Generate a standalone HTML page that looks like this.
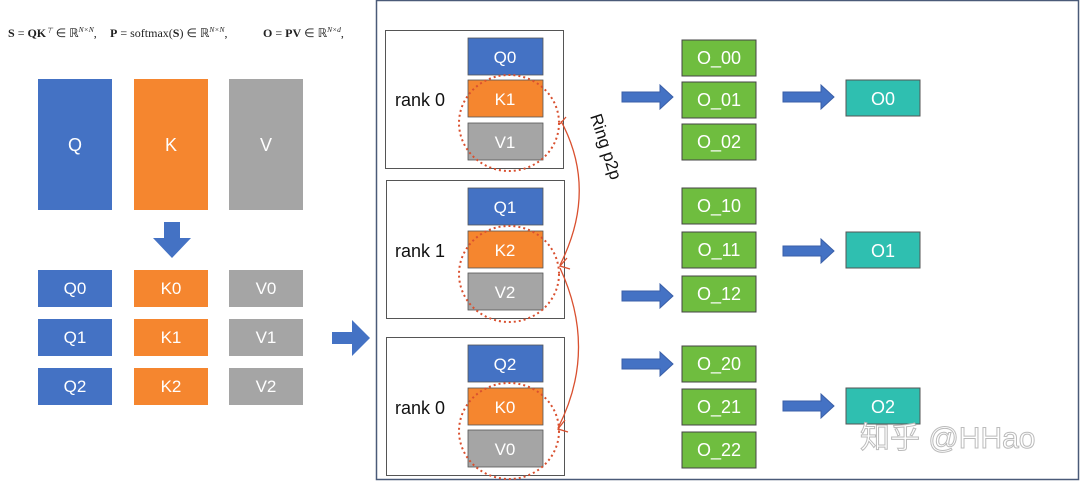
<!DOCTYPE html>
<html><head><meta charset="utf-8"><style>
body{margin:0;background:#fff}
svg{display:block}
text{font-family:"Liberation Sans",sans-serif}
.f{font-family:"Liberation Serif",serif;font-size:12px}
.s{font-size:7.5px;font-style:italic}
</style></head><body>
<svg width="1080" height="482" viewBox="0 0 1080 482" xmlns="http://www.w3.org/2000/svg">
<defs>
<g id="ar"><path d="M0,-5 L38,-5 L38,-12 L51,0 L38,12 L38,5 L0,5 Z" fill="#4472c4" stroke="#3a5fa8" stroke-width="1"/></g>
</defs>
<text x="8" y="37" class="f" fill="#222"><tspan font-weight="bold">S</tspan> = <tspan font-weight="bold">QK</tspan><tspan class="s" dy="-4">⊤</tspan><tspan dy="4"> ∈ ℝ</tspan><tspan class="s" dy="-5">N×N</tspan><tspan dy="5">,</tspan></text>
<text x="110" y="37" class="f" fill="#222"><tspan font-weight="bold">P</tspan> = softmax(<tspan font-weight="bold">S</tspan>) ∈ ℝ<tspan class="s" dy="-5">N×N</tspan><tspan dy="5">,</tspan></text>
<text x="263" y="37" class="f" fill="#222"><tspan font-weight="bold">O</tspan> = <tspan font-weight="bold">PV</tspan> ∈ ℝ<tspan class="s" dy="-5">N×d</tspan><tspan dy="5">,</tspan></text>

<g font-size="18" fill="#fff" text-anchor="middle">
<rect x="38" y="79" width="74" height="131" fill="#4472c4"/><text x="75" y="151">Q</text>
<rect x="134" y="79" width="74" height="131" fill="#f5862f"/><text x="171" y="151">K</text>
<rect x="229" y="79" width="74" height="131" fill="#a5a5a5"/><text x="266" y="151">V</text>
</g>
<path d="M164,222 L180,222 L180,238 L191,238 L172,258 L153,238 L164,238 Z" fill="#4472c4"/>
<g font-size="17" fill="#fff" text-anchor="middle">
<rect x="38" y="270" width="74" height="37" fill="#4472c4"/><text x="75" y="294">Q0</text>
<rect x="38" y="319" width="74" height="37" fill="#4472c4"/><text x="75" y="343">Q1</text>
<rect x="38" y="368" width="74" height="37" fill="#4472c4"/><text x="75" y="392">Q2</text>
<rect x="134" y="270" width="74" height="37" fill="#f5862f"/><text x="171" y="294">K0</text>
<rect x="134" y="319" width="74" height="37" fill="#f5862f"/><text x="171" y="343">K1</text>
<rect x="134" y="368" width="74" height="37" fill="#f5862f"/><text x="171" y="392">K2</text>
<rect x="229" y="270" width="74" height="37" fill="#a5a5a5"/><text x="266" y="294">V0</text>
<rect x="229" y="319" width="74" height="37" fill="#a5a5a5"/><text x="266" y="343">V1</text>
<rect x="229" y="368" width="74" height="37" fill="#a5a5a5"/><text x="266" y="392">V2</text>
</g>
<path d="M332,332 L352,332 L352,320 L370,338 L352,356 L352,344 L332,344 Z" fill="#4472c4"/>

<rect x="376.5" y="0.5" width="702" height="479" fill="none" stroke="#4a5a78" stroke-width="1.5"/>

<g fill="none" stroke="#555" stroke-width="1">
<rect x="385.5" y="30.5" width="178" height="138"/>
<rect x="386.5" y="180.5" width="178" height="138"/>
<rect x="386.5" y="337.5" width="178" height="138"/>
</g>
<g font-size="18" fill="#111">
<text x="395" y="106">rank 0</text>
<text x="395" y="257">rank 1</text>
<text x="395" y="414">rank 0</text>
</g>
<g stroke="#555" stroke-width="0.8">
<rect x="468" y="38" width="75" height="37" fill="#4472c4"/>
<rect x="468" y="80" width="75" height="37" fill="#f5862f"/>
<rect x="468" y="123" width="75" height="37" fill="#a5a5a5"/>
<rect x="468" y="188" width="75" height="37" fill="#4472c4"/>
<rect x="468" y="231" width="75" height="37" fill="#f5862f"/>
<rect x="468" y="273" width="75" height="37" fill="#a5a5a5"/>
<rect x="468" y="345" width="75" height="37" fill="#4472c4"/>
<rect x="468" y="388" width="75" height="37" fill="#f5862f"/>
<rect x="468" y="430" width="75" height="37" fill="#a5a5a5"/>
</g>
<g font-size="17" fill="#fff" text-anchor="middle">
<text x="505" y="63">Q0</text><text x="505" y="105">K1</text><text x="505" y="148">V1</text>
<text x="505" y="213">Q1</text><text x="505" y="256">K2</text><text x="505" y="298">V2</text>
<text x="505" y="370">Q2</text><text x="505" y="413">K0</text><text x="505" y="455">V0</text>
</g>
<g fill="none" stroke="#d9502f" stroke-width="2" stroke-dasharray="2 3">
<ellipse cx="509" cy="123" rx="50" ry="48"/>
<ellipse cx="509" cy="274" rx="50" ry="48"/>
<ellipse cx="509" cy="431" rx="50" ry="48"/>
</g>
<g fill="none" stroke="#d9502f" stroke-width="1.3">
<path d="M561,121 Q598,190 560,265"/>
<path d="M560,268 Q598,350 558,428"/>
<path d="M567,258 L560,266 L570,269"/>
<path d="M565,420 L558,429 L568,432"/>
<path d="M566,117 L560,124"/>
</g>
<text font-size="17" fill="#111" transform="translate(590,116) rotate(72)">Ring p2p</text>

<use href="#ar" x="622" y="97"/>
<use href="#ar" x="622" y="296"/>
<use href="#ar" x="622" y="364"/>
<use href="#ar" x="783" y="97"/>
<use href="#ar" x="783" y="251"/>
<use href="#ar" x="783" y="406"/>

<g stroke="#444" stroke-width="1" fill="#6fbd3f">
<rect x="682" y="40" width="74" height="36"/><rect x="682" y="82" width="74" height="36"/><rect x="682" y="124" width="74" height="36"/>
<rect x="682" y="188" width="74" height="36"/><rect x="682" y="232" width="74" height="36"/><rect x="682" y="276" width="74" height="36"/>
<rect x="682" y="346" width="74" height="36"/><rect x="682" y="389" width="74" height="36"/><rect x="682" y="432" width="74" height="36"/>
</g>
<g font-size="18" fill="#fff" text-anchor="middle">
<text x="719" y="64">O_00</text><text x="719" y="106">O_01</text><text x="719" y="148">O_02</text>
<text x="719" y="212">O_10</text><text x="719" y="256">O_11</text><text x="719" y="300">O_12</text>
<text x="719" y="370">O_20</text><text x="719" y="413">O_21</text><text x="719" y="456">O_22</text>
</g>
<g stroke="#555" stroke-width="1" fill="#2fbfb0">
<rect x="846" y="80" width="74" height="36"/><rect x="846" y="232" width="74" height="36"/><rect x="846" y="388" width="74" height="36"/>
</g>
<g font-size="18" fill="#fff" text-anchor="middle">
<text x="883" y="105">O0</text><text x="883" y="257">O1</text><text x="883" y="413">O2</text>
</g>
<text x="860" y="448" style="font-family:'Liberation Sans','Noto Sans CJK SC',sans-serif;font-size:30px" fill="#fff" stroke="#bbb" stroke-width="1">知乎 @HHao</text>
</svg>
</body></html>
